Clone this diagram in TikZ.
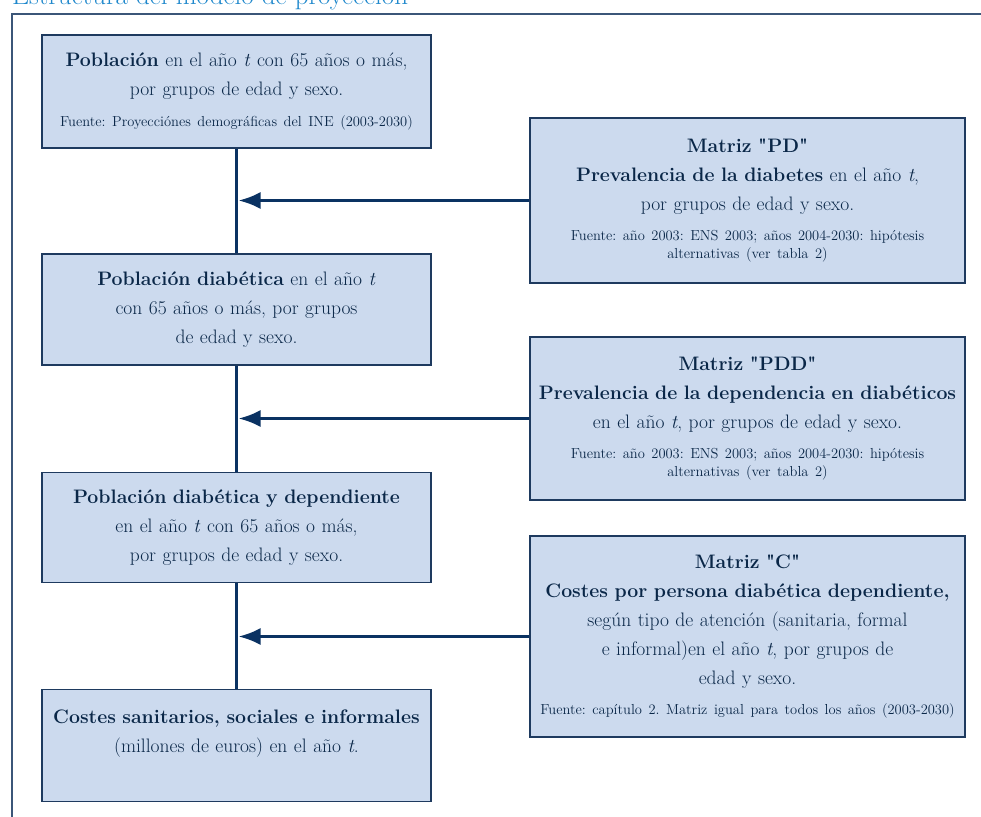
\documentclass[tikz,border=0pt]{standalone}
\usepackage{tikz}
\usetikzlibrary{positioning, arrows.meta}

\definecolor{relleno}{HTML}{CCDAEE}
\definecolor{borde}{HTML}{1E3A5F}
\definecolor{texto}{HTML}{0A2748}
\definecolor{linea}{HTML}{0A3262}
\definecolor{titulo}{HTML}{1F88CC}
\definecolor{marco}{HTML}{3B5678}

\frenchspacing
\newcommand{\fuente}{\fontsize{14.5}{18}\selectfont}

\tikzset{
    caja/.style={draw=borde, fill=relleno, line width=1.6pt, text=texto, align=center,
        minimum width=389pt, text width=383pt, inner sep=3pt,
        font=\fontsize{19.5}{29}\selectfont},
    matriz/.style={caja, minimum width=435pt, text width=429pt},
    flujo/.style={draw=linea, line width=3.5pt},
    entrada/.style={draw=linea, line width=3pt, -{Latex[length=22pt,width=17pt]}, shorten >=2pt}
}

\begin{document}
\begin{tikzpicture}[x=1pt, y=-1pt, node distance=218pt, on grid]
    \useasboundingbox (0,0) rectangle (981,816);

    % Marco y titulo
    \node[anchor=base west, inner sep=0pt, text=titulo, font=\fontsize{27}{30}\selectfont] (titulo) at (12,5) {Estructura del modelo de proyección};
    \draw[marco, line width=1.5pt] (12,830) -- (12,14) -- (990,14);

    % Columna izquierda
    \node[caja, minimum height=113pt] (pob) at (236.5,91.5)
        {\textbf{Población} en el año \textit{t} con 65 años o más,\\ por grupos de edad y sexo.\par
         \vspace{13pt}{\fuente Fuente: Proyecciónes demográficas del INE (2003-2030)\par}};
    \node[caja, minimum height=111pt, below=of pob] (pobdiab)
        {\textbf{Población diabética} en el año \textit{t}\\ con 65 años o más, por grupos\\ de edad y sexo.};
    \node[caja, minimum height=110pt, below=of pobdiab] (pobdep)
        {\textbf{Población diabética y dependiente}\\ en el año \textit{t} con 65 años o más,\\ por grupos de edad y sexo.};
    \node[caja, minimum height=112pt, below=of pobdep] (costes)
        {\textbf{Costes sanitarios, sociales e informales}\\ (millones de euros) en el año \textit{t}.\\ \mbox{}};

    % Matrices
    \node[matriz, minimum height=165pt, below right=109pt and 511pt of pob] (pd)
        {\textbf{Matriz \textquotedbl PD\textquotedbl}\\ \textbf{Prevalencia de la diabetes} en el año \textit{t},\\ por grupos de edad y sexo.\par
         \vspace{12pt}{\fuente Fuente: año 2003: ENS 2003; años 2004-2030: hipótesis\\ alternativas (ver tabla 2)\par}};
    \node[matriz, minimum height=163pt, below right=109pt and 511pt of pobdiab] (pdd)
        {\textbf{Matriz \textquotedbl PDD\textquotedbl}\\ \textbf{Prevalencia de la dependencia en diabéticos}\\ en el año \textit{t}, por grupos de edad y sexo.\par
         \vspace{12pt}{\fuente Fuente: año 2003: ENS 2003; años 2004-2030: hipótesis\\ alternativas (ver tabla 2)\par}};
    \node[matriz, minimum height=201pt, below right=109pt and 511pt of pobdep] (mc)
        {\textbf{Matriz \textquotedbl C\textquotedbl}\\ \textbf{Costes por persona diabética dependiente,}\\ según tipo de atención (sanitaria, formal\\ e informal)en el año \textit{t}, por grupos de\\ edad y sexo.\par
         \vspace{12pt}{\fuente Fuente: capítulo 2. Matriz igual para todos los años (2003-2030)\par}};

    % Conexiones
    \draw[flujo] (pob) -- (pobdiab);
    \draw[flujo] (pobdiab) -- (pobdep);
    \draw[flujo] (pobdep) -- (costes);
    \draw[entrada] (pd.west) -- (pd.west -| pob.center);
    \draw[entrada] (pdd.west) -- (pdd.west -| pob.center);
    \draw[entrada] (mc.west) -- (mc.west -| pob.center);
\end{tikzpicture}
\end{document}
